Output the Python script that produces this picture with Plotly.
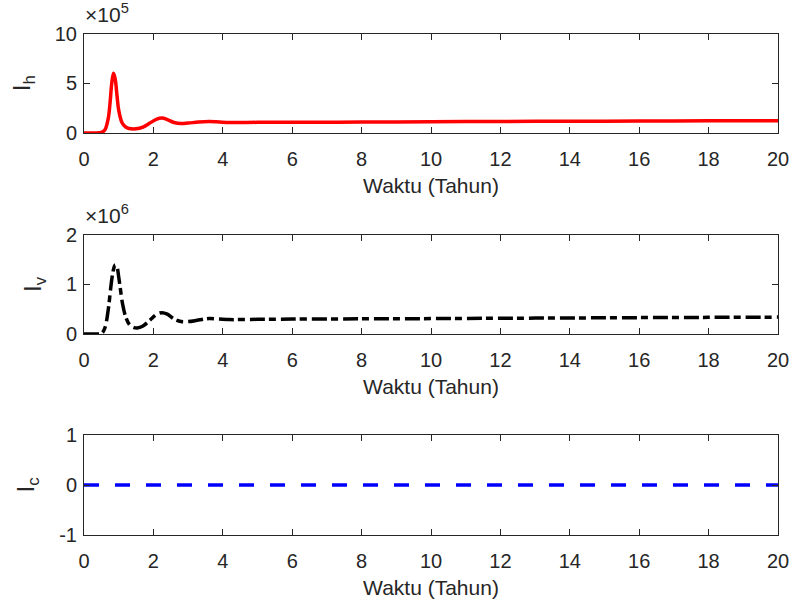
import plotly.graph_objects as go
from plotly.subplots import make_subplots

# Data
t_h = [0, 0.3, 0.5, 0.6, 0.7, 0.75, 0.8, 0.85, 0.9, 0.95, 1.0, 1.1, 1.2, 1.3, 1.5, 1.7, 1.9, 2.1, 2.25, 2.4,
       2.6, 2.8, 3.0, 3.3, 3.6, 3.9, 4.2, 5, 6, 8, 10, 12, 14, 16, 18, 20]
I_h = [0, 0, 0.05e5, 0.3e5, 1.5e5, 3.0e5, 5.0e5, 6.0e5, 5.4e5, 3.8e5, 2.3e5, 1.0e5, 0.6e5, 0.45e5, 0.42e5,
       0.6e5, 1.0e5, 1.4e5, 1.5e5, 1.35e5, 1.05e5, 0.95e5, 1.0e5, 1.1e5, 1.15e5, 1.1e5, 1.05e5, 1.07e5, 1.08e5,
       1.1e5, 1.13e5, 1.16e5, 1.18e5, 1.2e5, 1.22e5, 1.24e5]

t_v = [0, 0.3, 0.5, 0.6, 0.7, 0.75, 0.8, 0.85, 0.9, 0.95, 1.0, 1.05, 1.1, 1.2, 1.3, 1.4, 1.53, 1.7, 1.9, 2.1,
       2.25, 2.4, 2.6, 2.8, 3.0, 3.3, 3.6, 3.9, 4.2, 5, 6, 8, 10, 12, 14, 16, 18, 20]
I_v = [0, 0, 0.01e6, 0.12e6, 0.5e6, 0.8e6, 1.1e6, 1.3e6, 1.39e6, 1.35e6, 1.15e6, 0.9e6, 0.65e6, 0.35e6, 0.2e6,
       0.14e6, 0.12e6, 0.16e6, 0.28e6, 0.4e6, 0.43e6, 0.4e6, 0.3e6, 0.25e6, 0.25e6, 0.28e6, 0.31e6, 0.3e6,
       0.29e6, 0.295e6, 0.3e6, 0.305e6, 0.31e6, 0.317e6, 0.323e6, 0.33e6, 0.335e6, 0.34e6]

t_c = [0, 20]
I_c = [0, 0]

x_ticks = [0, 2, 4, 6, 8, 10, 12, 14, 16, 18, 20]
y1_ticks = [0, 5e5, 10e5]
y1_labels = ["0", "5", "10"]
y2_ticks = [0, 1e6, 2e6]
y2_labels = ["0", "1", "2"]
y3_ticks = [-1, 0, 1]
y3_labels = ["-1", "0", "1"]
x_title = "Waktu (Tahun)"

FONT = "Liberation Sans, Arial, Helvetica, sans-serif"
AX = "#262626"

fig = make_subplots(rows=3, cols=1)
fig.add_trace(go.Scatter(x=t_h, y=I_h, mode="lines", line=dict(color="#ff0000", width=3.5, shape="spline")),
              row=1, col=1)
fig.add_trace(go.Scatter(x=t_v, y=I_v, mode="lines",
                         line=dict(color="#000000", width=3.5, shape="spline", dash="15px,4px,7px,5px")),
              row=2, col=1)
fig.add_trace(go.Scatter(x=t_c, y=I_c, mode="lines",
                         line=dict(color="#0000ff", width=3.5, dash="15px,16px")),
              row=3, col=1)

xdom = [84 / 792, 778 / 792]
ydoms = [[1 - 133 / 607, 1 - 33.5 / 607], [1 - 334 / 607, 1 - 234.7 / 607], [1 - 535 / 607, 1 - 435 / 607]]
yranges = [[0, 10e5], [0, 2e6], [-1, 1]]
yticks = [(y1_ticks, y1_labels), (y2_ticks, y2_labels), (y3_ticks, y3_labels)]
ytitles = ["I<sub>h</sub>", "I<sub>v</sub>", "I<sub>c</sub>"]

common = dict(showline=True, linecolor=AX, linewidth=1, mirror="ticks", ticks="inside", ticklen=6,
              tickcolor=AX, showgrid=False, zeroline=False, automargin=False,
              tickfont=dict(family=FONT, size=20, color=AX))

for i in range(3):
    fig.update_xaxes(domain=xdom, range=[0, 20], tickvals=x_ticks, ticklabelstandoff=8,
                     title=dict(text=x_title, font=dict(family=FONT, size=21, color=AX), standoff=9),
                     row=i + 1, col=1, **common)
    fig.update_yaxes(domain=ydoms[i], range=yranges[i], tickvals=yticks[i][0], ticktext=yticks[i][1],
                     ticklabelstandoff=2,
                     title=dict(text=ytitles[i], font=dict(family=FONT, size=24, color=AX), standoff=17),
                     row=i + 1, col=1, **common)

fig.add_annotation(xref="paper", yref="paper", x=83 / 792, y=1 - 28 / 607, xanchor="left", yanchor="bottom",
                   text="×10<sup>5</sup>", showarrow=False, font=dict(family=FONT, size=21, color=AX))
fig.add_annotation(xref="paper", yref="paper", x=83 / 792, y=1 - 229 / 607, xanchor="left", yanchor="bottom",
                   text="×10<sup>6</sup>", showarrow=False, font=dict(family=FONT, size=21, color=AX))

fig.update_layout(width=792, height=607, margin=dict(l=0, r=0, t=0, b=0), showlegend=False,
                  plot_bgcolor="white", paper_bgcolor="white")

fig.write_html("out.html", config={"displayModeBar": False},
               post_script="document.body.style.margin='0';document.body.style.overflow='hidden';")
